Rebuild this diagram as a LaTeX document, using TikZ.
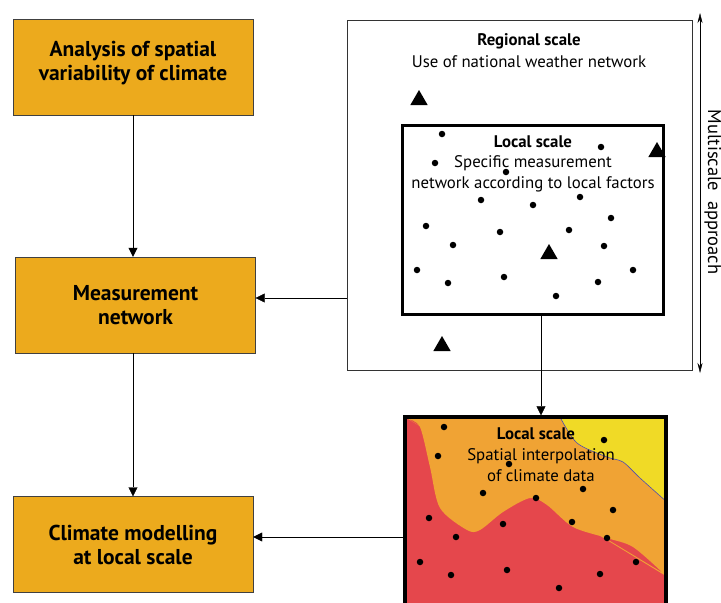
\documentclass[tikz,border=0pt]{standalone}
\usepackage{fontspec}
\setmainfont{PT Sans}[BoldFont={PT Sans Bold}]
\usetikzlibrary{arrows.meta,positioning,shapes.geometric}
\definecolor{boxfill}{RGB}{236,170,29}
\definecolor{mapred}{RGB}{229,71,76}
\definecolor{maporange}{RGB}{240,163,52}
\definecolor{mapyellow}{RGB}{240,218,38}

\begin{document}
\begin{tikzpicture}[x=1pt,y=-1pt,
  font=\fontsize{16.8}{21}\selectfont,
  stepbox/.style={draw=black!75,fill=boxfill,minimum width=240pt,minimum height=96pt,
    align=center,inner sep=0pt,font=\fontsize{21.5}{24}\selectfont\bfseries},
  station/.style={circle,fill=black,inner sep=0pt,minimum size=6.5pt},
  bigstation/.style={regular polygon,regular polygon sides=3,fill=black,inner sep=0pt,minimum size=20pt},
  >={Triangle[length=9pt,width=9pt]}]
\useasboundingbox (0,0) rectangle (721,603);

% left column
\node[stepbox,text depth=12pt] (analysis) at (133,67) {Analysis of spatial\\variability of climate};
\node[stepbox] (measure) at (135.5,305) {Measurement\\network};
\node[stepbox] (model) at (133,544.5) {Climate modelling\\at local scale};

% regional and local scale
\node[draw=black!80,minimum width=345pt,minimum height=350pt,inner sep=0pt] (regional) at (519.5,195) {};
\node[font=\fontsize{16.8}{21}\selectfont\bfseries] (regtitle) at (529,41) {Regional scale};
\node (regtext) at (529,62) {Use of national weather network};
\node[draw,line width=3pt,minimum width=261pt,minimum height=189pt,inner sep=0pt] (local) at (532.5,219.5) {};
\node[font=\fontsize{16.8}{21}\selectfont\bfseries] (loctitle) at (533,142) {Local scale};
\node[align=center] (loctext) at (533,174) {Specific measurement\\network according to local factors};
\foreach \p [count=\i] in {(442,134),(601,147),(435,163),(506,172),(481,200),(533,205),(580,197),
  (611,218),(426,226),(500,232),(569,230),(453,245),(604,246),(417,270),(448,283),(504,277),
  (556,296),(598,282),(633,270)}
  \node[station] (loc\i) at \p {};
\foreach \p [count=\i] in {(419,100),(657,152),(549,254),(442,346)}
  \node[bigstation] (tri\i) at \p {};

% interpolated map
\begin{scope}
\clip (405,417) rectangle (666,620);
\fill[mapred] (405,417) rectangle (666,620);
\fill[maporange] (405,417) -- (666,417) -- (666,576)
  plot[smooth] coordinates {(663,573) (633,547) (607,538) (573,527) (547,505) (530,498)
  (503,512) (480,530) (467,530) (440,508) (430,467) (420,427) (408,419)} -- cycle;
\fill[mapyellow,draw=gray!60!blue,line width=0.6pt] (560,415)
  plot[smooth] coordinates {(560,417) (577,443) (607,457) (623,462) (640,478) (668,503)}
  -- (668,415) -- cycle;
\end{scope}
\node[draw,line width=3.5pt,minimum width=261pt,minimum height=200pt,inner sep=0pt] (map) at (535.5,517) {};
\node[font=\fontsize{16.8}{21}\selectfont\bfseries] (maptitle) at (536,434) {Local scale};
\node[align=center] (maptext) at (541,465) {Spatial interpolation\\of climate data};
\foreach \p [count=\i] in {(444,427),(604,440),(438,456),(509,464),(483,493),(583,489),(536,498),
  (613,510),(429,518),(503,524),(572,522),(456,537),(607,538),(420,562),(451,575),(507,570),
  (559,588),(600,574),(636,562)}
  \node[station] (map\i) at \p {};

% connectors
\draw[->] (analysis.south) -- (analysis.south |- measure.north);
\draw[->] (measure.south -| model.north) -- (model.north);
\draw[->] ([yshift=-103pt]regional.west) -- ([yshift=-103pt]regional.west -| measure.east);
\draw[->] ([xshift=8.5pt]local.south) -- ([xshift=8.5pt]local.south |- map.north);
\draw[->] ([yshift=-20pt]map.west) -- ([yshift=-20pt]map.west -| model.east);
\coordinate (scaletop) at (700,13);
\coordinate (scalebot) at (700,373);
\draw[{Stealth[length=10pt,width=5pt]}-{Stealth[length=10pt,width=5pt]}] (scaletop) -- (scalebot);
\node[rotate=-90,anchor=base,font=\fontsize{18.5}{21}\selectfont] (scalelabel) at (708,192) {Multiscale~~approach};
\end{tikzpicture}
\end{document}
